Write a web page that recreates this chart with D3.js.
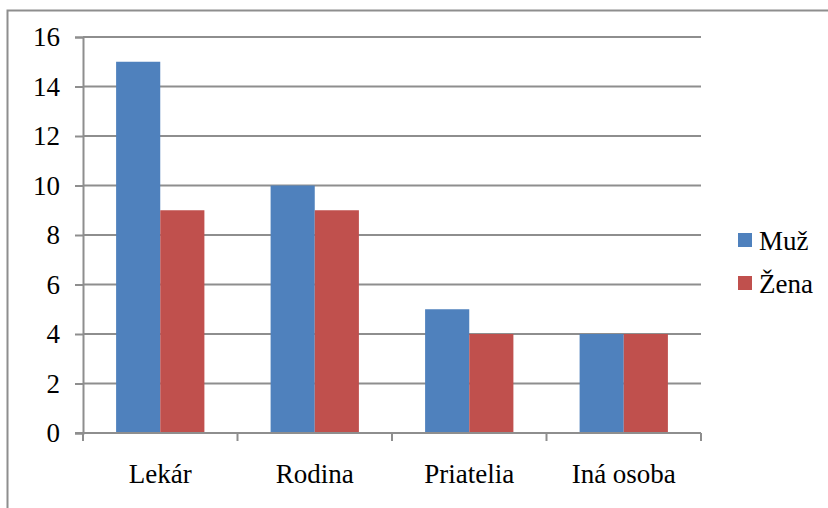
<!DOCTYPE html>
<html>
<head>
<meta charset="utf-8">
<script src="https://cdn.jsdelivr.net/npm/d3@7"></script>
<style>
  html, body { margin: 0; padding: 0; background: #fff; }
  svg { display: block; }
</style>
</head>
<body>
<svg id="chart" width="828" height="508"></svg>
<script>
const categories = ["Lekár", "Rodina", "Priatelia", "Iná osoba"];
const seriesNames = ["Muž", "Žena"];
const muzValues = [15, 10, 5, 4];
const zenaValues = [9, 9, 4, 4];
const yTicks = [0, 2, 4, 6, 8, 10, 12, 14, 16];
const colors = ["#4f81bd", "#c0504d"];

const FONT = "'Liberation Serif', 'Times New Roman', serif";
const svg = d3.select("#chart");
const plot = { left: 83, right: 701, top: 37, bottom: 433 };
const gridColor = "#8e8e8e";

function serif(sel) {
  sel.style("font-family", FONT).style("font-size", "27px").style("fill", "#000");
}

// chart frame (runs off the right and bottom edges)
svg.append("rect")
  .attr("x", 7.5).attr("y", 10.5)
  .attr("width", 900).attr("height", 600)
  .attr("fill", "none").attr("stroke", "#8e8e8e").attr("stroke-width", 2);

const x = d3.scaleBand().domain(categories).range([plot.left, plot.right]).paddingInner(0).paddingOuter(0);
const y = d3.scaleLinear().domain([0, 16]).range([plot.bottom, plot.top]);

// y axis with ticks
const yAxis = d3.axisLeft(y).tickValues(yTicks).tickSize(8).tickPadding(15).tickFormat(d3.format("d"));
const yg = svg.append("g").attr("transform", `translate(${plot.left},0)`).call(yAxis);
yg.select(".domain").attr("stroke", gridColor).attr("stroke-width", 2);
yg.selectAll(".tick line").attr("stroke", gridColor).attr("stroke-width", 2);
yg.selectAll(".tick text").call(serif);

// horizontal gridlines
svg.append("g").selectAll("line").data(yTicks.filter(d => d > 0)).join("line")
  .attr("x1", plot.left).attr("x2", plot.right)
  .attr("y1", d => y(d)).attr("y2", d => y(d))
  .attr("stroke", gridColor).attr("stroke-width", 2);

// bars
const inner = d3.scaleBand().domain(seriesNames).range([0, x.bandwidth()]).paddingOuter(0.75).paddingInner(0);
const seriesData = [muzValues, zenaValues];
seriesNames.forEach((name, si) => {
  svg.append("g").selectAll("rect").data(categories).join("rect")
    .attr("x", c => x(c) + inner(name))
    .attr("width", inner.bandwidth())
    .attr("y", (c, i) => y(seriesData[si][i]))
    .attr("height", (c, i) => y(0) - y(seriesData[si][i]))
    .attr("fill", colors[si]);
});

// x axis
const xAxis = d3.axisBottom(x).tickSize(0).tickPadding(31);
const xg = svg.append("g").attr("transform", `translate(0,${plot.bottom})`).call(xAxis);
xg.select(".domain").remove();
xg.selectAll(".tick text").call(serif);
svg.append("line").attr("x1", plot.left - 8).attr("x2", plot.right)
  .attr("y1", plot.bottom).attr("y2", plot.bottom)
  .attr("stroke", gridColor).attr("stroke-width", 2);
const boundaries = categories.map(c => x(c)).concat([plot.right]);
svg.append("g").selectAll("line").data(boundaries).join("line")
  .attr("x1", d => d).attr("x2", d => d)
  .attr("y1", plot.bottom).attr("y2", plot.bottom + 8)
  .attr("stroke", gridColor).attr("stroke-width", 2);

// legend
const legend = svg.append("g").attr("transform", "translate(738,233)");
seriesNames.forEach((name, i) => {
  const g = legend.append("g").attr("transform", `translate(0,${i * 43})`);
  g.append("rect").attr("width", 14).attr("height", 14).attr("fill", colors[i]);
  g.append("text").attr("x", 21).attr("y", 17).text(name).call(serif);
});
</script>
</body>
</html>
